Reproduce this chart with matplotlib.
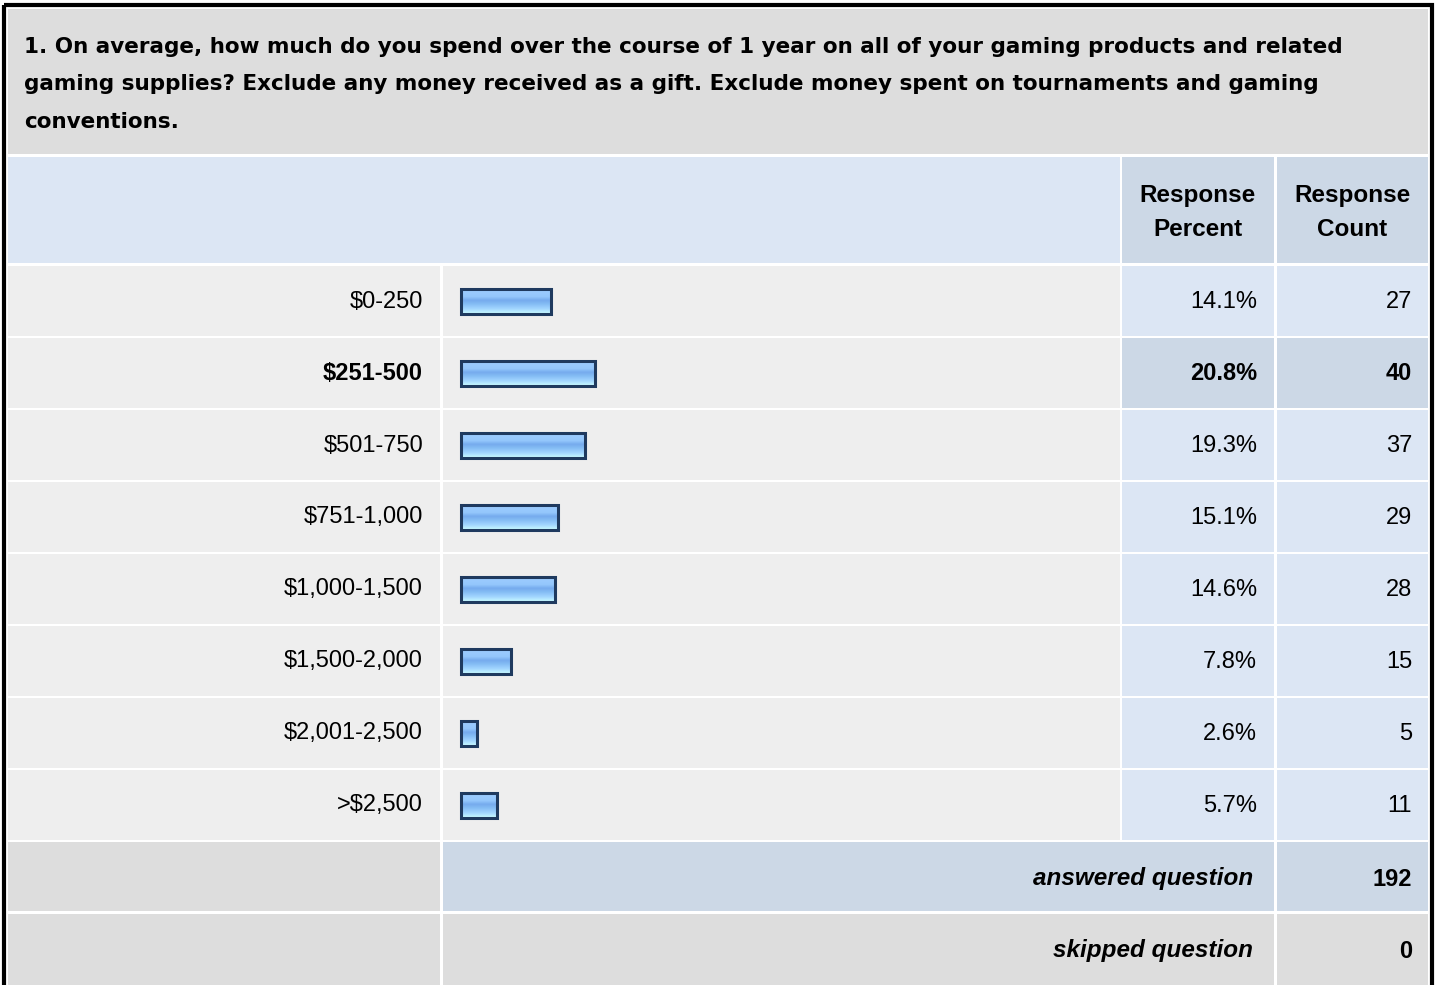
import numpy as np
import matplotlib.pyplot as plt
from matplotlib.patches import Rectangle

plt.rcParams['font.family'] = ['Liberation Sans', 'DejaVu Sans']

# data
title_lines = ['1. On average, how much do you spend over the course of 1 year on all of your gaming products and related',
               'gaming supplies? Exclude any money received as a gift. Exclude money spent on tournaments and gaming',
               'conventions.']
categories = ['$0-250', '$251-500', '$501-750', '$751-1,000', '$1,000-1,500',
              '$1,500-2,000', '$2,001-2,500', '>$2,500']
percents = [14.1, 20.8, 19.3, 15.1, 14.6, 7.8, 2.6, 5.7]
counts = [27, 40, 37, 29, 28, 15, 5, 11]
answered = 192
skipped = 0

# colours
GRAY = '#dddddd'
ROW = '#eeeeee'
BLUE = '#dce6f4'
BLUE2 = '#ccd8e6'

W, H = 1435, 985
fig = plt.figure(figsize=(W / 100, H / 100), dpi=100, facecolor='white')
ax = fig.add_axes([0, 0, 1, 1])
ax.axis('off')

FS = 17


def cell(x0, x1, y0, y1, color):
    ax.add_patch(Rectangle((x0, y0), x1 - x0, y1 - y0, facecolor=color, edgecolor='none', zorder=1))


def txt(x, y, s, ha='right', **kw):
    kw.setdefault('fontsize', FS)
    ax.text(x, y, s, ha=ha, va='center', color='black', parse_math=False, zorder=5, **kw)


# columns (x pixels)
c_lab = (8, 440)
c_bar = (442.5, 1119.5)
c_pct = (1122, 1273.5)
c_cnt = (1276.5, 1428)

# title (wide bold face, the original has letter spacing)
cell(8, 1428, 9, 154, GRAY)
for i, line in enumerate(title_lines):
    txt(24, 47 + i * 37.5, line, ha='left', fontweight='bold', fontsize=15.5, family='DejaVu Sans')

# header
cell(c_lab[0], c_bar[1], 157, 263, BLUE)
cell(c_pct[0], c_pct[1], 157, 263, BLUE2)
cell(c_cnt[0], c_cnt[1], 157, 263, BLUE2)
txt(sum(c_pct) / 2, 212.5, 'Response\nPercent', ha='center', fontweight='bold', fontsize=17.5, linespacing=1.62)
txt(sum(c_cnt) / 2, 212.5, 'Response\nCount', ha='center', fontweight='bold', fontsize=17.5, linespacing=1.62)

# gradient for bars
stops = [0.0, 0.3, 0.45, 0.6, 0.8, 1.0]
cols = np.array([[0.62, 0.80, 1.00], [0.58, 0.78, 0.99], [0.46, 0.67, 0.93],
                 [0.52, 0.74, 0.96], [0.64, 0.84, 1.00], [0.80, 1.00, 1.00]])
yy = np.linspace(0, 1, 60)
grad = np.stack([np.interp(yy, stops, cols[:, k]) for k in range(3)], axis=1)[:, None, :]

px_per_pct = 6.45
top = max(counts)
for i, (cat, p, n) in enumerate(zip(categories, percents, counts)):
    y0 = 266 + i * 72
    y1 = y0 + 70
    yc = y0 + 35.5
    hi = n == top
    cell(c_lab[0], c_lab[1], y0, y1, ROW)
    cell(c_bar[0], c_bar[1], y0, y1, ROW)
    cell(c_pct[0], c_pct[1], y0, y1, BLUE2 if hi else BLUE)
    cell(c_cnt[0], c_cnt[1], y0, y1, BLUE2 if hi else BLUE)
    fw = 'bold' if hi else 'normal'
    txt(423, yc, cat, fontweight=fw)
    txt(1257, yc, f'{p:.1f}%', fontweight=fw)
    txt(1412, yc, str(n), fontweight=fw)
    # bar
    bx = 460.5
    bw = p * px_per_pct
    by = yc - 12.5
    bh = 25
    ax.imshow(grad, extent=(bx, bx + bw, by + bh, by), aspect='auto', zorder=2, interpolation='bilinear')
    ax.add_patch(Rectangle((bx, by), bw, bh, facecolor='none', edgecolor='#1f3a5f', linewidth=2.2, zorder=3))

# answered / skipped
y0 = 842
cell(c_lab[0], c_lab[1], y0, y0 + 69, GRAY)
cell(c_bar[0], c_pct[1], y0, y0 + 69, BLUE2)
cell(c_cnt[0], c_cnt[1], y0, y0 + 69, BLUE2)
txt(1253, y0 + 37, 'answered question', fontweight='bold', style='italic', fontsize=17.5)
txt(1412, y0 + 37, str(answered), fontweight='bold')

y0 = 914
cell(c_lab[0], c_lab[1], y0, y0 + 80, GRAY)
cell(c_bar[0], c_pct[1], y0, y0 + 80, GRAY)
cell(c_cnt[0], c_cnt[1], y0, y0 + 80, GRAY)
txt(1253, y0 + 37, 'skipped question', fontweight='bold', style='italic', fontsize=17.5)
txt(1412, y0 + 37, str(skipped), fontweight='bold')

# outer frame
ax.add_patch(Rectangle((4, 4.5), 1428, 1000, facecolor='none', edgecolor='black', linewidth=3, zorder=6))

ax.set_xlim(0, W)
ax.set_ylim(H, 0)
fig.savefig('out.png', dpi=100, facecolor='white')
